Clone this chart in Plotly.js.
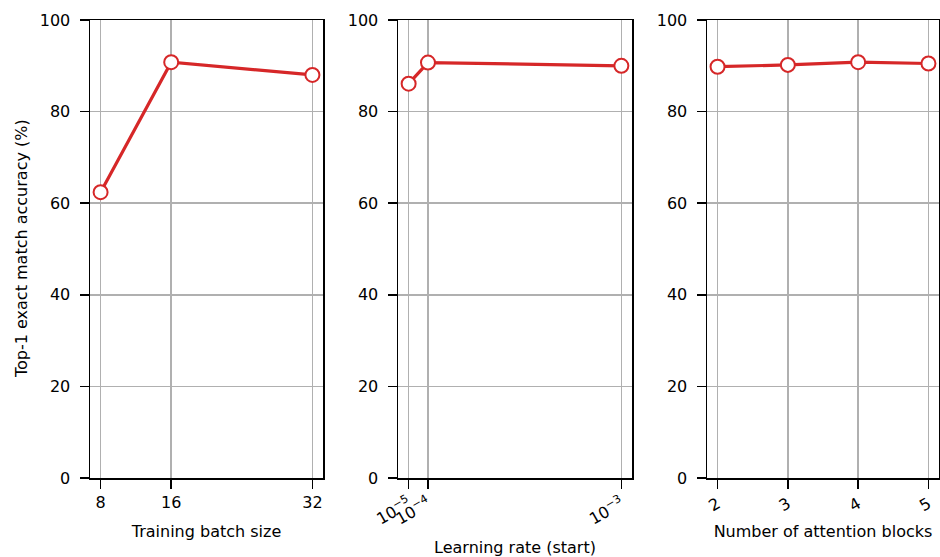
<!DOCTYPE html>
<html>
<head>
<meta charset="utf-8">
<script src="https://cdn.plot.ly/plotly-3.0.1.min.js"></script>
<style>
  html, body { margin: 0; padding: 0; background: #ffffff; }
  #chart { width: 940px; height: 557px; }
</style>
</head>
<body>
<div id="chart"></div>
<script>
// Ablation results: top-1 exact match accuracy (%)
const batchSizes = [8, 16, 32];
const batchAccuracy = [62.4, 90.8, 88.0];

const learningRates = [1e-5, 1e-4, 1e-3];
const learningRateLabels = ['10<sup>−5</sup>', '10<sup>−4</sup>', '10<sup>−3</sup>'];
const learningRateAccuracy = [86.1, 90.7, 90.0];

const attentionBlocks = [2, 3, 4, 5];
const attentionAccuracy = [89.8, 90.2, 90.8, 90.5];

const yTicks = [0, 20, 40, 60, 80, 100];

const RED = '#d62728';
const FONT = 'DejaVu Sans, sans-serif';
const FS = 16;
const W = 940, H = 557;

function series(x, y, xa, ya) {
  return {
    x: x, y: y, xaxis: xa, yaxis: ya,
    type: 'scatter', mode: 'lines+markers',
    line: { color: RED, width: 3.2 },
    marker: { symbol: 'circle', size: 14, color: '#ffffff', line: { color: RED, width: 2 } },
    cliponaxis: false,
    hoverinfo: 'x+y', showlegend: false
  };
}

function padRange(vals) {
  const lo = Math.min(...vals), hi = Math.max(...vals);
  const m = (hi - lo) * 0.05;
  return [lo - m, hi + m];
}

const titleFont = { family: FONT, size: FS, color: '#000000' };

const baseAxis = {
  showline: true, linecolor: '#000000', linewidth: 1.5, mirror: true,
  showgrid: true, gridcolor: '#b0b0b0', gridwidth: 1.5,
  zeroline: false,
  ticks: 'outside', ticklen: 9, tickwidth: 1.5, tickcolor: '#000000',
  tickfont: { family: FONT, size: FS, color: '#000000' },
  automargin: false
};

const yDomain = [1 - 478 / H, 1 - 20 / H];

function xAxis(left, right, vals, extra) {
  return Object.assign({}, baseAxis, {
    domain: [left / W, right / W],
    range: padRange(vals),
    tickmode: 'array', tickvals: vals
  }, extra);
}

function yAxis(anchor) {
  return Object.assign({}, baseAxis, {
    domain: yDomain, range: [0, 100],
    tickmode: 'array', tickvals: yTicks,
    ticklabelstandoff: 6,
    anchor: anchor
  });
}

const data = [
  series(batchSizes, batchAccuracy, 'x', 'y'),
  series(learningRates, learningRateAccuracy, 'x2', 'y2'),
  series(attentionBlocks, attentionAccuracy, 'x3', 'y3')
];

const layout = {
  width: W, height: H,
  margin: { l: 0, r: 0, t: 0, b: 0 },
  paper_bgcolor: '#ffffff', plot_bgcolor: '#ffffff',
  font: { family: FONT, size: FS, color: '#000000' },
  xaxis: xAxis(90, 323, batchSizes, {
    anchor: 'y',
    ticktext: batchSizes.map(String),
    title: { text: 'Training batch size', font: titleFont }
  }),
  xaxis2: xAxis(398, 632, learningRates, {
    anchor: 'y2',
    ticktext: learningRateLabels,
    tickangle: -30,
    title: { text: 'Learning rate (start)', font: titleFont, standoff: 24 }
  }),
  xaxis3: xAxis(707, 939, attentionBlocks, {
    anchor: 'y3',
    ticktext: attentionBlocks.map(String),
    tickangle: -30,
    title: { text: 'Number of attention blocks', font: titleFont }
  }),
  yaxis: yAxis('x'),
  yaxis2: yAxis('x2'),
  yaxis3: yAxis('x3'),
  annotations: [{
    text: 'Top-1 exact match accuracy (%)',
    xref: 'paper', yref: 'paper',
    x: 21 / W, y: (yDomain[0] + yDomain[1]) / 2,
    xanchor: 'center', yanchor: 'middle',
    textangle: -90, showarrow: false,
    font: titleFont
  }]
};

Plotly.newPlot('chart', data, layout, { displayModeBar: false, staticPlot: true });
</script>
</body>
</html>
